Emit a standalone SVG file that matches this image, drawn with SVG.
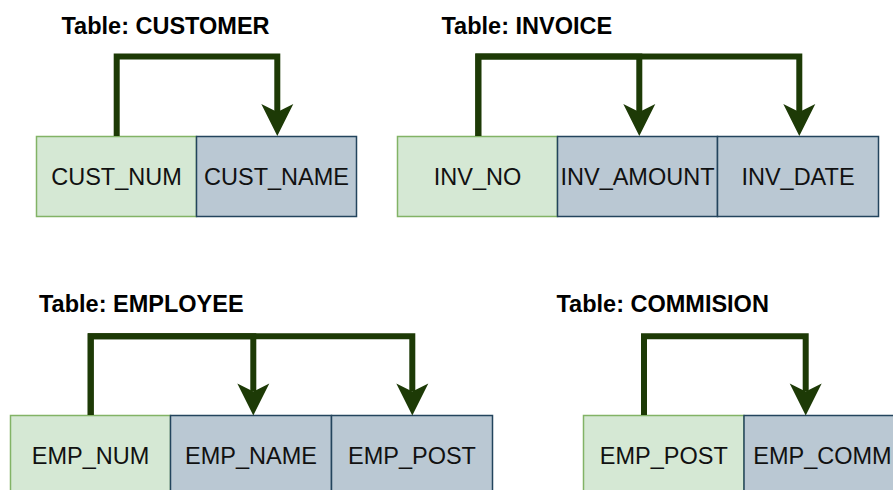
<svg xmlns="http://www.w3.org/2000/svg" width="893" height="490" viewBox="0 0 893 490">
<defs>
<style>
.title{font-family:"Liberation Sans",Arial,sans-serif;font-weight:bold;font-size:23.5px;fill:#000}
.lbl{font-family:"Liberation Sans",Arial,sans-serif;font-size:23.5px;fill:#111;text-anchor:middle}
.pk{fill:#d5e8d4;stroke:#82b366;stroke-width:1.5}
.at{fill:#bac8d3;stroke:#23445d;stroke-width:1.5}
.fd{fill:none;stroke:#1d3a06;stroke-width:6;stroke-linejoin:miter;marker-end:url(#ah)}
</style>
<marker id="ah" markerUnits="userSpaceOnUse" markerWidth="34" markerHeight="34" refX="8" refY="17" orient="auto" overflow="visible">
<path d="M0,1 L32,17 L0,33 L8,17 Z" fill="#1d3a06"/>
</marker>
</defs>
<rect width="893" height="490" fill="#fff"/>

<text class="title" x="61.5" y="33.5">Table: CUSTOMER</text>
<text class="title" x="441.5" y="33.5">Table: INVOICE</text>
<text class="title" x="39" y="311.8">Table: EMPLOYEE</text>
<text class="title" x="556.5" y="311.8">Table: COMMISION</text>

<g id="cust_num"><rect class="pk" x="36.5" y="136.5" width="160" height="80"/><text class="lbl" x="116.5" y="184.5">CUST_NUM</text></g>
<g id="cust_name"><rect class="at" x="196.5" y="136.5" width="160" height="80"/><text class="lbl" x="276.5" y="184.5">CUST_NAME</text></g>

<g id="inv_no"><rect class="pk" x="397.5" y="136.5" width="160" height="80"/><text class="lbl" x="477.5" y="184.5">INV_NO</text></g>
<g id="inv_amount"><rect class="at" x="557.5" y="136.5" width="160" height="80"/><text class="lbl" x="637.5" y="184.5">INV_AMOUNT</text></g>
<g id="inv_date"><rect class="at" x="717.5" y="136.5" width="161" height="80"/><text class="lbl" x="798" y="184.5">INV_DATE</text></g>

<g id="emp_num"><rect class="pk" x="10.5" y="415.5" width="160" height="80"/><text class="lbl" x="90.5" y="463.5">EMP_NUM</text></g>
<g id="emp_name"><rect class="at" x="170.5" y="415.5" width="161" height="80"/><text class="lbl" x="251" y="463.5">EMP_NAME</text></g>
<g id="emp_post"><rect class="at" x="331.5" y="415.5" width="161" height="80"/><text class="lbl" x="412" y="463.5">EMP_POST</text></g>

<g id="c_emp_post"><rect class="pk" x="583.5" y="415.5" width="160.5" height="80"/><text class="lbl" x="663.8" y="463.5">EMP_POST</text></g>
<g id="c_emp_comm"><rect class="at" x="744" y="415.5" width="160" height="80"/><text class="lbl" x="753.3" y="463.5" style="text-anchor:start">EMP_COMM</text></g>

<g id="connectors">
<path class="fd" d="M116.7,136 V56.5 H277.3 V112"/>
<path class="fd" d="M478.3,136 V56.5 H639.3 V112"/>
<path class="fd" d="M478.3,136 V56.5 H799.3 V112"/>
<path class="fd" d="M90.7,415 V336.3 H253.3 V391.5"/>
<path class="fd" d="M90.7,415 V336.3 H412.3 V391.5"/>
<path class="fd" d="M644,415 V336.3 H805.7 V391.5"/>
</g>
</svg>
